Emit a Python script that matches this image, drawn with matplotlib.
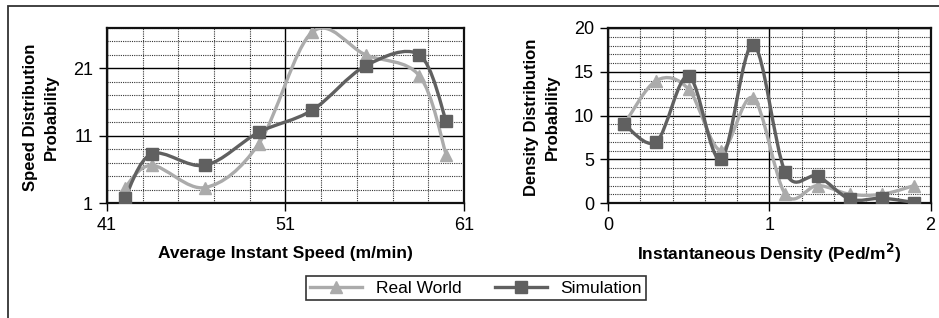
import numpy as np
import matplotlib
matplotlib.use("Agg")
import matplotlib.pyplot as plt
from matplotlib.path import Path
from matplotlib.patches import PathPatch, Rectangle
from matplotlib.ticker import MultipleLocator
from matplotlib.lines import Line2D

plt.rcParams['font.family'] = ['Liberation Sans', 'DejaVu Sans']

# speed distribution
speed_x = [42, 43.5, 46.5, 49.5, 52.5, 55.5, 58.5, 60]
speed_real = [3.3, 6.6, 3.3, 9.8, 26.4, 23.0, 19.9, 8.2]
speed_sim = [1.7, 8.3, 6.6, 11.5, 14.8, 21.4, 23.0, 13.2]

# density distribution
dens_x = [0.1, 0.3, 0.5, 0.7, 0.9, 1.1, 1.3, 1.5, 1.7, 1.9]
dens_real = [9.0, 14.0, 13.0, 6.0, 12.0, 1.0, 2.0, 1.0, 1.0, 2.0]
dens_sim = [9.0, 7.0, 14.5, 5.0, 18.1, 3.5, 3.05, 0.45, 0.55, 0.05]

REAL_C = '#ababab'
SIM_C = '#606060'


def smooth_path(xs, ys):
    """Excel-like smoothed line as cubic bezier segments"""
    p = np.column_stack([xs, ys]).astype(float)
    n = len(p)
    verts = [p[0]]
    codes = [Path.MOVETO]
    for i in range(n - 1):
        p0 = p[i - 1] if i > 0 else p[i]
        p3 = p[i + 2] if i + 2 < n else p[i + 1]
        c1 = p[i] + (p[i + 1] - p0) / 6.0
        c2 = p[i + 1] - (p3 - p[i]) / 6.0
        verts += [c1, c2, p[i + 1]]
        codes += [Path.CURVE4] * 3
    return Path(verts, codes)


def draw_series(ax, xs, ys, color, marker, ms):
    patch = PathPatch(smooth_path(xs, ys), facecolor='none', edgecolor=color,
                      lw=2.4, zorder=3, capstyle='round', joinstyle='round')
    ax.add_patch(patch)
    ax.plot(xs, ys, ls='none', marker=marker, ms=ms, color=color, zorder=4)


def style_axes(ax, xmaj, xmin, ymaj, ymin, xoff=0, yoff=0):
    ax.xaxis.set_major_locator(MultipleLocator(xmaj, offset=xoff))
    ax.xaxis.set_minor_locator(MultipleLocator(xmin, offset=xoff))
    ax.yaxis.set_major_locator(MultipleLocator(ymaj, offset=yoff))
    ax.yaxis.set_minor_locator(MultipleLocator(ymin, offset=yoff))
    ax.grid(True, which='minor', color='#333333', lw=0.8, ls=(0, (1, 1)))
    ax.grid(True, which='major', color='black', lw=1.0, ls='-')
    ax.set_axisbelow(True)
    ax.tick_params(which='major', direction='out', length=6, width=1,
                   labelsize=13, colors='black', pad=4)
    ax.tick_params(which='minor', length=0)
    for s in ax.spines.values():
        s.set_linewidth(1.6)
        s.set_color('#111111')


def set_labels(ax, xlabel, ylabel, ylab_x):
    ax.set_xlabel(xlabel, fontsize=12.5, fontweight='bold', va='center')
    ax.xaxis.set_label_coords(0.5, -0.29)
    ax.set_ylabel(ylabel, fontsize=12, fontweight='bold', va='center',
                  linespacing=1.45)
    ax.yaxis.set_label_coords(ylab_x, 0.49)


fig = plt.figure(figsize=(9.39, 3.18), dpi=100)

# outer frame
fig.patches.append(Rectangle((8 / 939, -0.1), 1.2, 1.1 - 6 / 318, transform=fig.transFigure,
                             fill=False, edgecolor='#333333', lw=1.3))

ax1 = fig.add_axes([107 / 939, 1 - 203 / 318, 357 / 939, 175 / 318])
ax1.set_xlim(41, 61)
ax1.set_ylim(1, 27)
style_axes(ax1, 10, 2, 10, 2, xoff=1, yoff=1)
draw_series(ax1, speed_x, speed_real, REAL_C, '^', 8.5)
draw_series(ax1, speed_x, speed_sim, SIM_C, 's', 8.5)
set_labels(ax1, 'Average Instant Speed (m/min)', 'Speed Distribution\nProbability', -0.185)

ax2 = fig.add_axes([608 / 939, 1 - 203 / 318, 322.5 / 939, 175 / 318])
ax2.set_xlim(0, 2)
ax2.set_ylim(0, 20)
style_axes(ax2, 1, 0.2, 5, 1)
draw_series(ax2, dens_x, dens_real, REAL_C, '^', 8.5)
draw_series(ax2, dens_x, dens_sim, SIM_C, 's', 8.5)
set_labels(ax2, 'Instantaneous Density (Ped/m$^\\mathbf{2}$)', 'Density Distribution\nProbability',
           -0.205)

handles = [Line2D([], [], color=REAL_C, lw=2.4, marker='^', ms=8.5),
           Line2D([], [], color=SIM_C, lw=2.4, marker='s', ms=8.5)]
leg = fig.legend(handles, ['Real World', 'Simulation'], loc='center', ncol=2,
                 bbox_to_anchor=(476 / 939, 1 - 288 / 318), fontsize=12.5, frameon=True,
                 fancybox=False, edgecolor='black', handlelength=3.0, handletextpad=0.8,
                 columnspacing=1.9, borderpad=0.25, borderaxespad=0)
leg.get_frame().set_linewidth(1.2)

fig.savefig('out.png', dpi=100)
